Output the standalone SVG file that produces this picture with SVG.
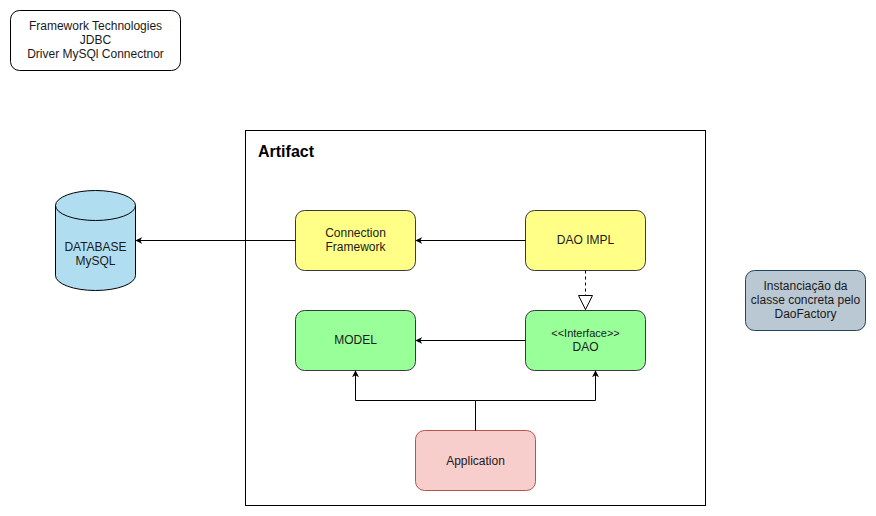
<svg xmlns="http://www.w3.org/2000/svg" width="876" height="516" viewBox="0 0 876 516">
<style>
text{font-family:"Liberation Sans",Arial,sans-serif;font-size:12px;fill:#1a1a1a;text-anchor:middle}
.n{stroke-width:1}
.y{fill:#ffff88;stroke:#36393d}
.g{fill:#99ff99;stroke:#36393d}
.e{fill:none;stroke:#000;stroke-width:1}
</style>
<defs>
<marker id="a" viewBox="0 0 10 10" refX="9" refY="5" markerWidth="7" markerHeight="7" orient="auto" markerUnits="userSpaceOnUse">
<path d="M0,0 L10,5 L0,10 L3,5 Z" fill="#000"/>
</marker>
<marker id="t" viewBox="0 0 16 16" refX="15" refY="8" markerWidth="16" markerHeight="16" orient="auto" markerUnits="userSpaceOnUse">
<path d="M1,1 L15,8 L1,15 Z" fill="#fff" stroke="#000"/>
</marker>
</defs>
<rect width="876" height="516" fill="#fff"/>
<g id="tech">
<rect x="10.5" y="10.5" width="170" height="60" rx="9" fill="#fff" stroke="#000"/>
<text x="95.5" y="30">Framework Technologies</text>
<text x="95.5" y="44">JDBC</text>
<text x="95.5" y="58">Driver MySQl Connectnor</text>
</g>
<g id="artifact">
<rect x="245.5" y="130.5" width="460" height="375" fill="#fff" stroke="#000"/>
<text x="258" y="157" style="font-size:16px;font-weight:bold;text-anchor:start;fill:#000">Artifact</text>
</g>
<g id="database">
<path d="M55.5,205.5 A40,15 0 0 1 135.5,205.5 L135.5,275.5 A40,15 0 0 1 55.5,275.5 Z" fill="#b1ddf0" stroke="#000"/>
<path d="M55.5,205.5 A40,15 0 0 0 135.5,205.5" fill="none" stroke="#000"/>
<text x="95.5" y="251">DATABASE</text>
<text x="95.5" y="265">MySQL</text>
</g>
<g id="connection">
<rect class="y" x="295.5" y="210.5" width="120" height="60" rx="9"/>
<text x="355.5" y="237">Connection</text>
<text x="355.5" y="251">Framework</text>
</g>
<g id="daoimpl">
<rect class="y" x="525.5" y="210.5" width="120" height="60" rx="9"/>
<text x="585.5" y="244">DAO IMPL</text>
</g>
<g id="model">
<rect class="g" x="295.5" y="310.5" width="120" height="60" rx="9"/>
<text x="355.5" y="344">MODEL</text>
</g>
<g id="dao">
<rect class="g" x="525.5" y="310.5" width="120" height="60" rx="9"/>
<text x="585.5" y="337" style="font-size:11px">&lt;&lt;Interface&gt;&gt;</text>
<text x="585.5" y="351">DAO</text>
</g>
<g id="application">
<rect x="415.5" y="430.5" width="120" height="60" rx="9" fill="#f8cecc" stroke="#b85450"/>
<text x="475.5" y="465">Application</text>
</g>
<g id="note">
<rect x="745.5" y="270.5" width="120" height="60" rx="9" fill="#bac8d3" stroke="#23445d"/>
<text x="805.5" y="290">Instanciação da</text>
<text x="805.5" y="304">classe concreta pelo</text>
<text x="805.5" y="318">DaoFactory</text>
</g>
<g id="connectors">
<path class="e" d="M295.5,240.5 L136,240.5" marker-end="url(#a)"/>
<path class="e" d="M525.5,240.5 L416,240.5" marker-end="url(#a)"/>
<path class="e" d="M525.5,340.5 L416,340.5" marker-end="url(#a)"/>
<path class="e" d="M585.5,270.5 L585.5,309.5" stroke-dasharray="3 3" marker-end="url(#t)"/>
<path class="e" d="M475.5,430.5 L475.5,400.5 L355.5,400.5 L355.5,371" marker-end="url(#a)"/>
<path class="e" d="M475.5,400.5 L595.5,400.5 L595.5,371" marker-end="url(#a)"/>
</g>
</svg>
